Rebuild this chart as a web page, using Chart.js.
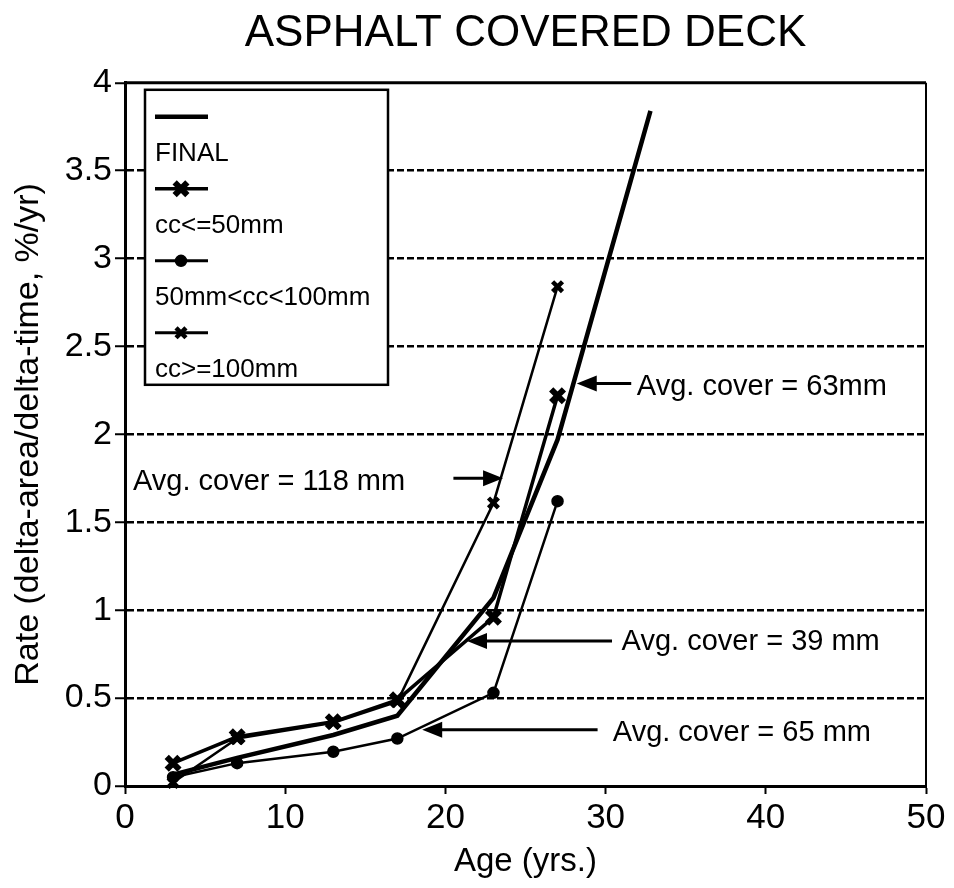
<!DOCTYPE html>
<html>
<head>
<meta charset="utf-8">
<script src="https://cdn.jsdelivr.net/npm/chart.js@4.4.0/dist/chart.umd.min.js"></script>
<style>
  html, body { margin: 0; padding: 0; background: #fff; }
  #wrap { width: 954px; height: 888px; }
</style>
</head>
<body>
<div id="wrap"><canvas id="deckChart" width="954" height="888"></canvas></div>
<script>
const FONT = "'Liberation Sans', Arial, Helvetica, sans-serif";

// age of deck (yrs) at each survey
const ages = [3, 7, 13, 17, 23, 27];
const finalAges = [3, 7, 13, 17, 23, 27, 32.8];

// rate, delta-area/delta-time in %/yr
const finalRate = [0.065, 0.16, 0.29, 0.40, 1.07, 1.97, 3.84];
const ccLow  = [0.13, 0.28, 0.365, 0.49, 0.96, 2.22];   // cc<=50mm
const ccMid  = [0.05, 0.13, 0.195, 0.27, 0.53, 1.62];   // 50mm<cc<100mm
const ccHigh = [0.02, 0.27, 0.36, 0.48, 1.61, 2.84];    // cc>=100mm

const seriesNames = ['FINAL', 'cc<=50mm', '50mm<cc<100mm', 'cc>=100mm'];

const xTicks = [0, 10, 20, 30, 40, 50];
const yTicks = [0, 0.5, 1, 1.5, 2, 2.5, 3, 3.5, 4];

// callout labels with arrows (data units)
const notes = [
  {text: 'Avg. cover = 63mm',   tx: 31.95, ty: 2.27, from: [31.6, 2.29], to: [28.2, 2.29]},
  {text: 'Avg. cover = 118 mm', tx: 0.5,   ty: 1.73, from: [20.5, 1.75], to: [23.6, 1.75]},
  {text: 'Avg. cover = 39 mm',  tx: 31.0,  ty: 0.82, from: [30.4, 0.825], to: [21.35, 0.825]},
  {text: 'Avg. cover = 65 mm',  tx: 30.45, ty: 0.30, from: [29.5, 0.32], to: [18.55, 0.32]}
];

function pts(xs, ys) {
  return xs.map((v, i) => ({x: v, y: ys[i]}));
}

const styles = [
  {lw: 4.5, style: 'circle', r: 0, bw: 0},
  {lw: 3.5, style: 'crossRot', r: 9, bw: 6},
  {lw: 2.5, style: 'circle', r: 5.5, bw: 1.5},
  {lw: 2.5, style: 'crossRot', r: 7, bw: 4.5}
];

const seriesData = [pts(finalAges, finalRate), pts(ages, ccLow), pts(ages, ccMid), pts(ages, ccHigh)];

function marker(ctx, st, x, y) {
  if (!st.r) return;
  ctx.lineWidth = st.bw;
  ctx.beginPath();
  if (st.style === 'circle') {
    ctx.arc(x, y, st.r, 0, Math.PI * 2);
    ctx.fill();
    ctx.stroke();
  } else {
    const d = st.r * 0.7071;
    ctx.moveTo(x - d, y - d); ctx.lineTo(x + d, y + d);
    ctx.moveTo(x - d, y + d); ctx.lineTo(x + d, y - d);
    ctx.stroke();
  }
}

const decor = {
  id: 'decor',
  afterDraw(chart) {
    const {ctx, chartArea: a, scales: {x, y}} = chart;
    ctx.save();
    ctx.strokeStyle = '#000';
    ctx.fillStyle = '#000';

    // top + right frame
    ctx.lineWidth = 3;
    ctx.beginPath(); ctx.moveTo(a.left, a.top); ctx.lineTo(a.right, a.top); ctx.stroke();
    ctx.lineWidth = 2;
    ctx.beginPath(); ctx.moveTo(a.right, a.top); ctx.lineTo(a.right, a.bottom); ctx.stroke();

    // callouts
    ctx.font = '29px ' + FONT;
    ctx.textBaseline = 'middle';
    ctx.textAlign = 'left';
    notes.forEach(n => {
      const x0 = x.getPixelForValue(n.from[0]), y0 = y.getPixelForValue(n.from[1]);
      const x1 = x.getPixelForValue(n.to[0]), y1 = y.getPixelForValue(n.to[1]);
      const dir = Math.sign(x1 - x0);
      ctx.lineWidth = 3;
      ctx.beginPath(); ctx.moveTo(x0, y0); ctx.lineTo(x1 - dir * 12, y1); ctx.stroke();
      ctx.beginPath();
      ctx.moveTo(x1, y1);
      ctx.lineTo(x1 - dir * 20, y1 - 8);
      ctx.lineTo(x1 - dir * 20, y1 + 8);
      ctx.closePath();
      ctx.fill();
      ctx.fillText(n.text, x.getPixelForValue(n.tx), y.getPixelForValue(n.ty));
    });

    // legend box (samples stacked above their labels)
    const bx = a.left + 20, by = a.top + 7, bw = 243, bh = 295;
    ctx.fillStyle = '#fff';
    ctx.fillRect(bx, by, bw, bh);
    ctx.lineWidth = 2.5;
    ctx.strokeRect(bx, by, bw, bh);
    ctx.fillStyle = '#000';
    ctx.font = '26px ' + FONT;
    seriesNames.forEach((name, i) => {
      const sy = by + 27 + i * 72;
      const st = styles[i];
      ctx.lineWidth = Math.max(st.lw, 3);
      ctx.beginPath(); ctx.moveTo(bx + 10, sy); ctx.lineTo(bx + 63, sy); ctx.stroke();
      marker(ctx, st, bx + 36, sy);
      ctx.fillText(name, bx + 10, sy + 37);
    });
    ctx.restore();
  }
};

new Chart(document.getElementById('deckChart'), {
  type: 'line',
  data: {
    datasets: seriesNames.map((name, i) => ({
      label: name,
      data: seriesData[i],
      borderColor: '#000',
      backgroundColor: '#000',
      borderWidth: styles[i].lw,
      pointStyle: styles[i].style,
      pointRadius: styles[i].r,
      pointBorderWidth: styles[i].bw,
      pointHoverRadius: styles[i].r,
      tension: 0,
      clip: false
    }))
  },
  options: {
    responsive: false,
    animation: false,
    events: [],
    layout: {padding: {left: 0, right: 28, top: 0, bottom: 0}},
    plugins: {
      legend: {display: false},
      tooltip: {enabled: false},
      title: {
        display: true,
        text: 'ASPHALT COVERED DECK',
        color: '#000',
        fullSize: false,
        font: {family: FONT, size: 44, weight: 'normal', lineHeight: 1.2},
        padding: {top: 7, bottom: 23}
      }
    },
    scales: {
      x: {
        type: 'linear',
        min: 0, max: 50,
        afterBuildTicks: s => { s.ticks = xTicks.map(v => ({value: v})); },
        afterFit: s => { s.height = 102; },
        grid: {drawOnChartArea: false, drawTicks: true, tickLength: 8, tickColor: '#000', tickWidth: 2},
        border: {display: true, color: '#000', width: 3},
        ticks: {color: '#000', padding: 3, maxRotation: 0, font: {family: FONT, size: 35},
                callback: v => String(v)},
        title: {
          display: true, text: 'Age (yrs.)', color: '#000',
          font: {family: FONT, size: 33, lineHeight: 1.6},
          padding: {top: 0, bottom: 0}
        }
      },
      y: {
        type: 'linear',
        min: 0, max: 4,
        afterBuildTicks: s => { s.ticks = yTicks.map(v => ({value: v})); },
        afterFit: s => { s.width = 125; },
        grid: {
          color: c => (c.tick && (c.tick.value === 0 || c.tick.value === 4)) ? 'rgba(0,0,0,0)' : '#000',
          lineWidth: 2.5,
          tickLength: 10,
          tickColor: '#000',
          tickWidth: 2,
          tickBorderDash: [1, 0]
        },
        border: {display: true, color: '#000', width: 3, dash: [7, 3]},
        ticks: {color: '#000', padding: 3, font: {family: FONT, size: 34},
                callback: v => String(v)},
        title: {
          display: true, text: 'Rate (delta-area/delta-time, %/yr)', color: '#000',
          font: {family: FONT, size: 34, lineHeight: 1.7},
          padding: {top: 0, bottom: 0}
        }
      }
    }
  },
  plugins: [decor]
});
</script>
</body>
</html>
